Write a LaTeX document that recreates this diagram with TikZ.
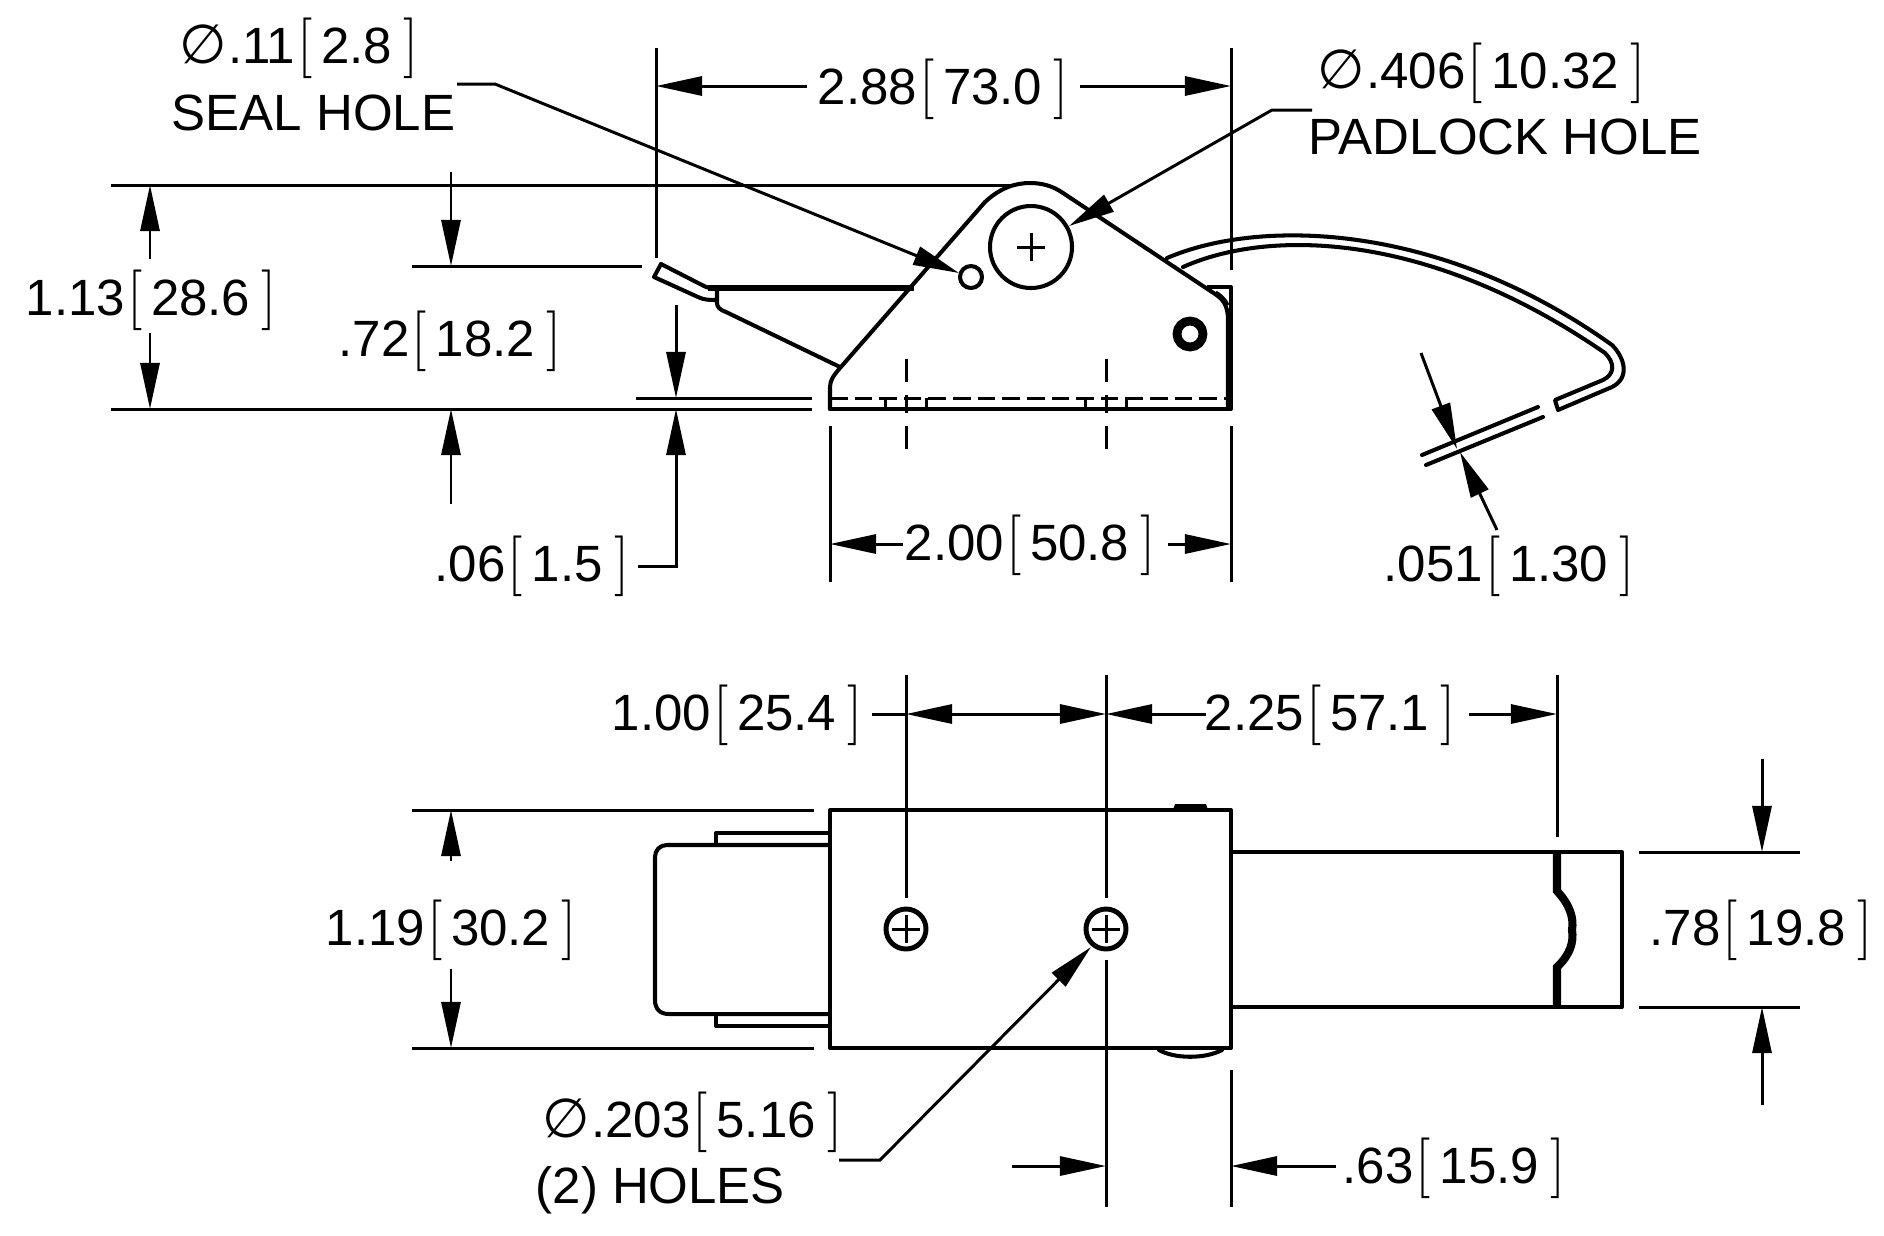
\documentclass[tikz,border=0pt]{standalone}
\usepackage{fontspec}
\setmainfont{Liberation Sans}
\newfontfamily\dejafont{DejaVu Sans}
\usepackage{tikz}
\usetikzlibrary{arrows.meta}

\newcommand{\brk}[1]{{\fontsize{17.28pt}{20pt}\selectfont$#1$}}
\newcommand{\sizetxt}[2]{#1\kern0.6pt\brk{[}\kern2.5pt #2\kern3.3pt\brk{]}}
\newcommand{\diasym}{{\dejafont\fontsize{15.5pt}{16pt}\selectfont ∅}\kern0.3pt}

\tikzset{
    lbl/.style={anchor=base west, inner sep=0pt, font=\fontsize{14.5pt}{16pt}\selectfont},
    part/.style={line width=1.15pt, line join=round, line cap=round},
    thin part/.style={line width=0.85pt},
    dimline/.style={line width=0.85pt},
    dimtip/.style={line width=0.85pt, -{Triangle[length=0.46cm, width=0.19cm]}},
}

\begin{document}
\begin{tikzpicture}[x=0.01cm, y=-0.01cm]
    \useasboundingbox (0, 0) rectangle (1884, 1235);

    \draw[part] (830, 409) -- (830, 387) .. controls (830, 380) and (834, 375) .. (840, 368)
        -- (985, 202) .. controls (1000, 188) and (1015, 183) .. (1030, 183)
        .. controls (1042, 183) and (1053, 186) .. (1063, 193)
        -- (1212, 292) .. controls (1222, 298) and (1228, 304) .. (1228, 320) -- (1228, 409);
    \draw[part] (830, 409) -- (1231, 409) -- (1231, 287) -- (1208, 287);
    \draw[thin part] (1216, 292) .. controls (1222, 296) and (1226, 300) .. (1228, 305);
    \draw[line width=0.85pt, dash pattern=on 5pt off 2pt] (830, 398) -- (1231, 398);
    \foreach \xtick in {885, 926, 1085, 1126} {
        \draw[thin part] (\xtick, 398) -- (\xtick, 409);
    }
    \foreach \xcen in {906, 1106} {
        \draw[thin part] (\xcen, 359) -- (\xcen, 382);
        \draw[thin part] (\xcen, 395) -- (\xcen, 413);
        \draw[thin part] (\xcen, 426) -- (\xcen, 449);
    }
    \draw[part] (1031, 247) circle (41);
    \draw[thin part] (1017, 247) -- (1045, 247) (1031, 233) -- (1031, 261);
    \draw[part] (971, 277) circle (11);
    \draw[line width=2.5pt] (1190, 334) circle (13);

    \draw[part] (661, 264) -- (654, 277) -- (698, 297) .. controls (704, 300) and (710, 300) .. (717, 300);
    \draw[part] (661, 264) -- (704, 286) .. controls (708, 288) and (710, 288) .. (714, 288);
    \draw[line width=1.6pt] (708, 288) -- (914, 288);
    \draw[part] (717, 288) -- (717, 303) .. controls (717, 307) and (720, 310) .. (726, 312) -- (840, 367);

    \draw[part] (1167, 258) .. controls (1260, 218) and (1440, 222) .. (1612, 345)
        .. controls (1625, 358) and (1630, 378) .. (1612, 387) -- (1558, 410) -- (1555, 400)
        -- (1603, 380) .. controls (1615, 374) and (1615, 363) .. (1605, 353)
        .. controls (1430, 232) and (1270, 228) .. (1183, 267);
    \draw[part] (1422, 455) -- (1538, 407);
    \draw[part] (1426, 465) -- (1543, 417);

    \draw[part] (830, 810) rectangle (1231, 1048);
    \fill (1173, 810) -- (1175, 804) -- (1206, 804) -- (1208, 810) -- cycle;
    \draw[part] (1159, 1050) .. controls (1175, 1059) and (1205, 1059) .. (1222, 1050);
    \draw[part] (830, 845) -- (667, 845) .. controls (660, 845) and (655, 850) .. (655, 857) -- (655, 1000)
        .. controls (655, 1009) and (660, 1014) .. (669, 1014) -- (830, 1014);
    \draw[part] (716, 845) -- (716, 833) -- (830, 833);
    \draw[part] (716, 1014) -- (716, 1026) -- (830, 1026);
    \foreach \xhole in {906, 1106} {
        \draw[line width=1.4pt] (\xhole, 929) circle (20);
        \draw[thin part] (\xhole - 14, 929) -- (\xhole + 14, 929) (\xhole, 915) -- (\xhole, 943);
    }
    \draw[part] (1231, 852) -- (1622, 852) -- (1622, 1007) -- (1231, 1007);
    \draw[line width=2.3pt] (1557, 852) -- (1557, 891) .. controls (1570, 905) and (1574, 918) .. (1572, 930)
        .. controls (1574, 942) and (1570, 955) .. (1557, 967) -- (1557, 1007);

    \coordinate (extTopL) at (111, 185);
    \coordinate (extTopR) at (1012, 185);
    \coordinate (extBotL) at (111, 409);
    \coordinate (extBotR) at (812, 409);
    \coordinate (extMidL) at (412, 266);
    \coordinate (extMidR) at (642, 266);
    \coordinate (extLipL) at (636, 398);
    \coordinate (extLipR) at (812, 398);
    \coordinate (extLevA) at (656, 48);
    \coordinate (extLevB) at (656, 258);
    \coordinate (extBodA) at (1231, 48);
    \coordinate (extBodB) at (1231, 270);
    \coordinate (extBodC) at (1231, 426);
    \coordinate (extBodD) at (1231, 582);
    \coordinate (extBasA) at (830, 426);
    \coordinate (extBasB) at (830, 582);
    \draw[dimline] (extTopL) -- (extTopR);
    \draw[dimline] (extBotL) -- (extBotR);
    \draw[dimline] (extMidL) -- (extMidR);
    \draw[dimline] (extLipL) -- (extLipR);
    \draw[dimline] (extLevA) -- (extLevB);
    \draw[dimline] (extBodA) -- (extBodB);
    \draw[dimline] (extBodC) -- (extBodD);
    \draw[dimline] (extBasA) -- (extBasB);

    \node[lbl] (sealdia) at (179, 63) {\diasym\sizetxt{.11}{2.8}};
    \node[lbl] (sealname) at (171, 130) {SEAL HOLE};
    \node[lbl] (width288) at (817, 104) {\sizetxt{2.88}{73.0}};
    \node[lbl] (paddia) at (1317, 88) {\diasym\sizetxt{.406}{10.32}};
    \node[lbl] (padname) at (1308, 154) {PADLOCK HOLE};
    \node[lbl] (high113) at (25, 315) {\sizetxt{1.13}{28.6}};
    \node[lbl] (high72) at (338, 356) {\sizetxt{.72}{18.2}};
    \node[lbl] (lip06) at (434, 581) {\sizetxt{.06}{1.5}};
    \node[lbl] (width200) at (904, 560) {\sizetxt{2.00}{50.8}};
    \node[lbl] (wire051) at (1383, 581) {\sizetxt{.051}{1.30}};
    \node[lbl] (pitch100) at (611, 730) {\sizetxt{1.00}{25.4}};
    \node[lbl] (reach225) at (1204, 730) {\sizetxt{2.25}{57.1}};
    \node[lbl] (wide119) at (325, 945) {\sizetxt{1.19}{30.2}};
    \node[lbl] (wide78) at (1649, 945) {\sizetxt{.78}{19.8}};
    \node[lbl] (holedia) at (542, 1137) {\diasym\sizetxt{.203}{5.16}};
    \node[lbl] (holename) at (535, 1203) {(2) HOLES};
    \node[lbl] (edge63) at (1342, 1183) {\sizetxt{.63}{15.9}};

    \coordinate (sealA) at (457, 84);
    \coordinate (sealB) at (495, 84);
    \coordinate (sealTip) at (959, 273);
    \draw[dimtip] (sealA) -- (sealB) -- (sealTip);
    \coordinate (padA) at (1312, 110);
    \coordinate (padB) at (1272, 110);
    \coordinate (padTip) at (1069, 226);
    \draw[dimtip] (padA) -- (padB) -- (padTip);
    \coordinate (holeA) at (839, 1160);
    \coordinate (holeB) at (880, 1160);
    \coordinate (holeTip) at (1091, 947);
    \draw[dimtip] (holeA) -- (holeB) -- (holeTip);

    \coordinate (w288L) at (807, 86);
    \coordinate (w288LTip) at (656, 86);
    \coordinate (w288R) at (1080, 86);
    \coordinate (w288RTip) at (1231, 86);
    \draw[dimtip] (w288L) -- (w288LTip);
    \draw[dimtip] (w288R) -- (w288RTip);
    \coordinate (h113A) at (150, 259);
    \coordinate (h113ATip) at (150, 185);
    \coordinate (h113B) at (150, 333);
    \coordinate (h113BTip) at (150, 409);
    \draw[dimtip] (h113A) -- (h113ATip);
    \draw[dimtip] (h113B) -- (h113BTip);
    \coordinate (h72A) at (451, 172);
    \coordinate (h72ATip) at (451, 266);
    \coordinate (h72B) at (451, 504);
    \coordinate (h72BTip) at (451, 409);
    \draw[dimtip] (h72A) -- (h72ATip);
    \draw[dimtip] (h72B) -- (h72BTip);
    \coordinate (l06A) at (676, 305);
    \coordinate (l06ATip) at (676, 398);
    \coordinate (l06B) at (638, 566);
    \coordinate (l06C) at (676, 566);
    \coordinate (l06BTip) at (676, 409);
    \draw[dimtip] (l06A) -- (l06ATip);
    \draw[dimtip] (l06B) -- (l06C) -- (l06BTip);
    \coordinate (w200L) at (903, 544);
    \coordinate (w200LTip) at (830, 544);
    \coordinate (w200R) at (1168, 544);
    \coordinate (w200RTip) at (1231, 544);
    \draw[dimtip] (w200L) -- (w200LTip);
    \draw[dimtip] (w200R) -- (w200RTip);
    \coordinate (wireA) at (1421, 353);
    \coordinate (wireATip) at (1457, 449);
    \coordinate (wireB) at (1497, 530);
    \coordinate (wireBTip) at (1460, 452);
    \draw[dimtip] (wireA) -- (wireATip);
    \draw[dimtip] (wireB) -- (wireBTip);

    \coordinate (cen1A) at (906, 675);
    \coordinate (cen1B) at (906, 898);
    \coordinate (cen2A) at (1106, 675);
    \coordinate (cen2B) at (1106, 898);
    \coordinate (cen2C) at (1106, 960);
    \coordinate (cen2D) at (1106, 1207);
    \coordinate (reachA) at (1557, 675);
    \coordinate (reachB) at (1557, 837);
    \coordinate (sideA) at (1231, 1070);
    \coordinate (sideB) at (1231, 1207);
    \draw[dimline] (cen1A) -- (cen1B);
    \draw[dimline] (cen2A) -- (cen2B);
    \draw[dimline] (cen2C) -- (cen2D);
    \draw[dimline] (reachA) -- (reachB);
    \draw[dimline] (sideA) -- (sideB);
    \coordinate (topExtL) at (412, 810);
    \coordinate (topExtR) at (814, 810);
    \coordinate (botExtL) at (412, 1048);
    \coordinate (botExtR) at (814, 1048);
    \coordinate (wireTopL) at (1639, 852);
    \coordinate (wireTopR) at (1800, 852);
    \coordinate (wireBotL) at (1639, 1007);
    \coordinate (wireBotR) at (1800, 1007);
    \draw[dimline] (topExtL) -- (topExtR);
    \draw[dimline] (botExtL) -- (botExtR);
    \draw[dimline] (wireTopL) -- (wireTopR);
    \draw[dimline] (wireBotL) -- (wireBotR);

    \coordinate (p100A) at (872, 714);
    \coordinate (p100ATip) at (906, 714);
    \coordinate (p100Mid) at (1006, 714);
    \coordinate (p100BTip) at (1106, 714);
    \coordinate (r225A) at (1206, 714);
    \coordinate (r225ATip) at (1106, 714);
    \coordinate (r225B) at (1469, 714);
    \coordinate (r225BTip) at (1557, 714);
    \draw[dimline] (p100A) -- (p100ATip);
    \draw[dimtip] (p100Mid) -- (p100ATip);
    \draw[dimtip] (p100Mid) -- (p100BTip);
    \draw[dimtip] (r225A) -- (r225ATip);
    \draw[dimtip] (r225B) -- (r225BTip);
    \coordinate (w119A) at (451, 861);
    \coordinate (w119ATip) at (451, 810);
    \coordinate (w119B) at (451, 969);
    \coordinate (w119BTip) at (451, 1048);
    \draw[dimtip] (w119A) -- (w119ATip);
    \draw[dimtip] (w119B) -- (w119BTip);
    \coordinate (w78A) at (1762, 759);
    \coordinate (w78ATip) at (1762, 852);
    \coordinate (w78B) at (1762, 1105);
    \coordinate (w78BTip) at (1762, 1007);
    \draw[dimtip] (w78A) -- (w78ATip);
    \draw[dimtip] (w78B) -- (w78BTip);
    \coordinate (e63A) at (1012, 1166);
    \coordinate (e63ATip) at (1106, 1166);
    \coordinate (e63B) at (1336, 1166);
    \coordinate (e63BTip) at (1231, 1166);
    \draw[dimtip] (e63A) -- (e63ATip);
    \draw[dimtip] (e63B) -- (e63BTip);
\end{tikzpicture}
\end{document}
